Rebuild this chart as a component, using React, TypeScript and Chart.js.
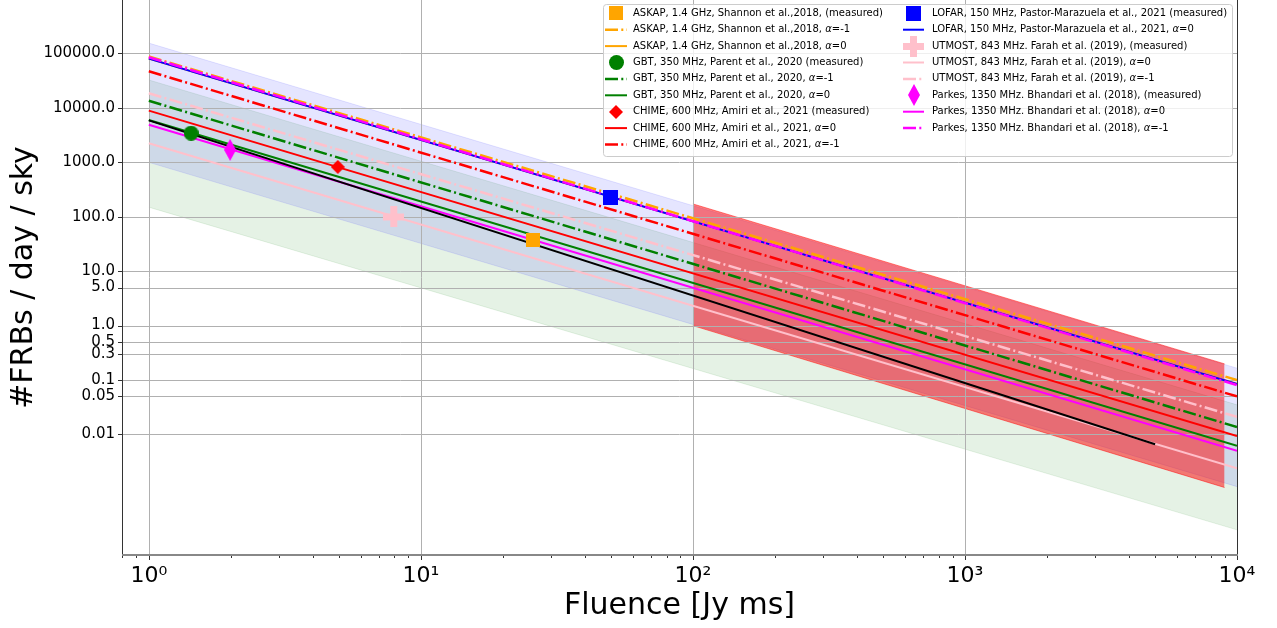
import React, { useEffect, useRef } from "react";
import { Chart, registerables } from "chart.js";

Chart.register(...registerables);

const FONT = "'DejaVu Sans', sans-serif";

// ---------- model lines (rate vs fluence, read at the two ends) ----------
const lineFluence = [1, 10000];
const askapAlphaM1 = [88000, 0.1];
const askapAlpha0 = [80500, 0.085];
const lofarAlpha0 = [80400, 0.084];
const parkesAlphaM1 = [85000, 0.081];
const chimeAlphaM1 = [47000, 0.05];
const utmostAlphaM1 = [18600, 0.021];
const gbtAlphaM1 = [13500, 0.0137];
const chimeAlpha0 = [8900, 0.0094];
const gbtAlpha0 = [6000, 0.0062];
const parkesAlpha0 = [4900, 0.005];
const utmostAlpha0 = [2240, 0.0024];
const blackFluence = [1, 5000];
const blackRate = [5900, 0.0066];

// ---------- shaded bands ----------
const bandFluence = [1, 10000];
const blueBandUpper = [155000, 0.165];
const blueBandLower = [1000, 0.0011];
const greenBandUpper = [32600, 0.035];
const greenBandLower = [150, 0.000177];
const redBandFluence = [100, 9000];
const redBandUpper = [172, 0.198];
const redBandLower = [1.0, 0.00106];

// ---------- measured points ----------
const measuredNames = ["ASKAP", "GBT", "CHIME", "UTMOST", "Parkes", "LOFAR"];
const measuredFluence = [25.9, 1.43, 4.95, 7.95, 1.99, 49.8];
const measuredRate = [37.6, 3430, 824, 99, 1690, 225];

// ---------- ticks ----------
const yTickValues = [100000, 10000, 1000, 100, 10, 5, 1, 0.5, 0.3, 0.1, 0.05, 0.01];
const yTickLabels = ["100000.0", "10000.0", "1000.0", "100.0", "10.0", "5.0", "1.0", "0.5", "0.3", "0.1", "0.05", "0.01"];
const xTickValues = [1, 10, 100, 1000, 10000];
const xTickLabels = ["10\u2070", "10\u00b9", "10\u00b2", "10\u00b3", "10\u2074"];

// ---------- legend ----------
const legendCol1 = [
  "ASKAP, 1.4 GHz, Shannon et al.,2018, (measured)",
  "ASKAP, 1.4 GHz, Shannon et al.,2018, |=-1",
  "ASKAP, 1.4 GHz, Shannon et al.,2018, |=0",
  "GBT, 350 MHz, Parent et al., 2020 (measured)",
  "GBT, 350 MHz, Parent et al., 2020, |=-1",
  "GBT, 350 MHz, Parent et al., 2020, |=0",
  "CHIME, 600 MHz, Amiri et al., 2021 (measured)",
  "CHIME, 600 MHz, Amiri et al., 2021, |=0",
  "CHIME, 600 MHz, Amiri et al., 2021, |=-1",
];
const legendCol2 = [
  "LOFAR, 150 MHz, Pastor-Marazuela et al., 2021 (measured)",
  "LOFAR, 150 MHz, Pastor-Marazuela et al., 2021, |=0",
  "UTMOST, 843 MHz. Farah et al. (2019), (measured)",
  "UTMOST, 843 MHz, Farah et al. (2019), |=0",
  "UTMOST, 843 MHz, Farah et al. (2019), |=-1",
  "Parkes, 1350 MHz. Bhandari et al. (2018), (measured)",
  "Parkes, 1350 MHz. Bhandari et al. (2018), |=0",
  "Parkes, 1350 MHz. Bhandari et al. (2018), |=-1",
];

const ORANGE = "#ffa500";
const BLUE = "#0000ff";
const GREEN = "#008000";
const RED = "#ff0000";
const PINK = "#ffc0cb";
const MAGENTA = "#ff00ff";
const DASHDOT = [13, 3.3, 2, 3.3];

type MarkerKind = "square" | "circle" | "diamond" | "thinDiamond" | "plus";

function makeMarker(kind: MarkerKind, color: string, w: number, h: number): HTMLCanvasElement {
  const c = document.createElement("canvas");
  c.width = w;
  c.height = h;
  const g = c.getContext("2d")!;
  g.fillStyle = color;
  if (kind === "square") {
    g.fillRect(0, 0, w, h);
  } else if (kind === "circle") {
    g.beginPath();
    g.arc(w / 2, h / 2, w / 2, 0, Math.PI * 2);
    g.fill();
  } else if (kind === "diamond" || kind === "thinDiamond") {
    g.beginPath();
    g.moveTo(w / 2, 0);
    g.lineTo(w, h / 2);
    g.lineTo(w / 2, h);
    g.lineTo(0, h / 2);
    g.closePath();
    g.fill();
  } else if (kind === "plus") {
    const t = Math.round(w / 3);
    g.fillRect((w - t) / 2, 0, t, h);
    g.fillRect(0, (h - t) / 2, w, t);
  }
  return c;
}

type LegendHandle = { type: "marker"; img: HTMLCanvasElement } | { type: "line"; color: string; dash: boolean };

export default function App() {
  const ref = useRef<HTMLCanvasElement>(null);

  useEffect(() => {
    const canvas = ref.current;
    if (!canvas) return;

    const mAskap = makeMarker("square", ORANGE, 14, 14);
    const mGbt = makeMarker("circle", GREEN, 15, 15);
    const mChime = makeMarker("diamond", RED, 14, 14);
    const mUtmost = makeMarker("plus", PINK, 21, 21);
    const mParkes = makeMarker("thinDiamond", MAGENTA, 12, 22);
    const mLofar = makeMarker("square", BLUE, 15, 15);
    const markerImgs = [mAskap, mGbt, mChime, mUtmost, mParkes, mLofar];

    const pts = (xs: number[], ys: number[]) => xs.map((x, i) => ({ x, y: ys[i] }));

    let order = 200;
    const lineDs = (label: string, ys: number[], color: string, dash: boolean, xs = lineFluence) => ({
      label,
      data: pts(xs, ys),
      borderColor: color,
      borderWidth: dash ? 2.5 : 2,
      borderDash: dash ? DASHDOT : [],
      pointRadius: 0,
      fill: false,
      order: order--,
    });

    const bandDs = (label: string, xs: number[], upper: number[], lower: number[], fillColor: string, edge: string, o: number, gridAfter = false) => [
      {
        label: label + " upper",
        data: pts(xs, upper),
        borderColor: edge,
        borderWidth: 1,
        backgroundColor: fillColor,
        pointRadius: 0,
        fill: "+1",
        order: o + 1,
      },
      {
        label: label + " lower",
        data: pts(xs, lower),
        borderColor: edge,
        borderWidth: 1,
        pointRadius: 0,
        fill: false,
        order: o,
        gridAfter,
      },
    ];

    // bands: drawn first (higher order = drawn earlier)
    const bands: any[] = [
      ...bandDs("green band", bandFluence, greenBandUpper, greenBandLower, "rgba(0,128,0,0.1)", "rgba(0,128,0,0.1)", 905),
      ...bandDs("blue band", bandFluence, blueBandUpper, blueBandLower, "rgba(0,0,255,0.1)", "rgba(0,0,255,0.1)", 903),
      ...bandDs("red band", redBandFluence, redBandUpper, redBandLower, "rgba(255,0,0,0.5)", "rgba(255,0,0,0.5)", 901, true),
    ];

    const lines = [
      lineDs("ASKAP a=-1", askapAlphaM1, ORANGE, true),
      lineDs("ASKAP a=0", askapAlpha0, ORANGE, false),
      lineDs("GBT a=-1", gbtAlphaM1, GREEN, true),
      lineDs("GBT a=0", gbtAlpha0, GREEN, false),
      lineDs("CHIME a=0", chimeAlpha0, RED, false),
      lineDs("CHIME a=-1", chimeAlphaM1, RED, true),
      lineDs("LOFAR a=0", lofarAlpha0, BLUE, false),
      lineDs("UTMOST a=0", utmostAlpha0, PINK, false),
      lineDs("UTMOST a=-1", utmostAlphaM1, PINK, true),
      lineDs("Parkes a=0", parkesAlpha0, MAGENTA, false),
      lineDs("Parkes a=-1", parkesAlphaM1, MAGENTA, true),
      lineDs("other", blackRate, "#000000", false, blackFluence),
    ];

    const markers = measuredNames.map((name, i) => ({
      label: name + " measured",
      data: [{ x: measuredFluence[i], y: measuredRate[i] }],
      showLine: false,
      pointStyle: markerImgs[i],
      pointRadius: 8,
      borderWidth: 0,
      order: 50 - i,
    }));

    const handles1: LegendHandle[] = [
      { type: "marker", img: mAskap },
      { type: "line", color: ORANGE, dash: true },
      { type: "line", color: ORANGE, dash: false },
      { type: "marker", img: mGbt },
      { type: "line", color: GREEN, dash: true },
      { type: "line", color: GREEN, dash: false },
      { type: "marker", img: mChime },
      { type: "line", color: RED, dash: false },
      { type: "line", color: RED, dash: true },
    ];
    const handles2: LegendHandle[] = [
      { type: "marker", img: mLofar },
      { type: "line", color: BLUE, dash: false },
      { type: "marker", img: mUtmost },
      { type: "line", color: PINK, dash: false },
      { type: "line", color: PINK, dash: true },
      { type: "marker", img: mParkes },
      { type: "line", color: MAGENTA, dash: false },
      { type: "line", color: MAGENTA, dash: true },
    ];

    const drawGrid = (chart: any) => {
      const { ctx, chartArea: a, scales } = chart;
      ctx.save();
      ctx.beginPath();
      ctx.rect(a.left, a.top, a.right - a.left, a.bottom - a.top);
      ctx.clip();
      ctx.strokeStyle = "#b0b0b0";
      ctx.lineWidth = 1;
      ctx.beginPath();
      xTickValues.forEach((v) => {
        const px = Math.round(scales.x.getPixelForValue(v)) + 0.5;
        ctx.moveTo(px, a.top);
        ctx.lineTo(px, a.bottom);
      });
      yTickValues.forEach((v) => {
        const py = Math.round(scales.y.getPixelForValue(v)) + 0.5;
        ctx.moveTo(a.left, py);
        ctx.lineTo(a.right, py);
      });
      ctx.stroke();
      ctx.restore();
    };

    const drawLegendText = (ctx: CanvasRenderingContext2D, text: string, x: number, y: number) => {
      const parts = text.split("|");
      ctx.font = `10px ${FONT}`;
      ctx.fillText(parts[0], x, y);
      if (parts.length > 1) {
        let cx = x + ctx.measureText(parts[0]).width;
        ctx.font = `italic 10px ${FONT}`;
        ctx.fillText("\u03b1", cx, y);
        cx += ctx.measureText("\u03b1").width;
        ctx.font = `10px ${FONT}`;
        ctx.fillText(parts[1], cx, y);
      }
    };

    const drawLegend = (ctx: CanvasRenderingContext2D) => {
      ctx.save();
      const bx = 603.5, by = 4.5, bw = 629, bh = 152;
      ctx.beginPath();
      (ctx as any).roundRect(bx, by, bw, bh, 3);
      ctx.fillStyle = "rgba(255,255,255,0.8)";
      ctx.fill();
      ctx.strokeStyle = "#cccccc";
      ctx.lineWidth = 1;
      ctx.stroke();
      ctx.textBaseline = "middle";
      ctx.fillStyle = "#000";
      const cols = [
        { texts: legendCol1, handles: handles1, hx0: 605, hx1: 627, tx: 633 },
        { texts: legendCol2, handles: handles2, hx0: 903, hx1: 924, tx: 932 },
      ];
      cols.forEach((col) => {
        col.texts.forEach((t, i) => {
          const ry = 13.3 + i * 16.4;
          const h = col.handles[i];
          if (h.type === "marker") {
            ctx.drawImage(h.img, Math.round((col.hx0 + col.hx1) / 2 - h.img.width / 2), Math.round(ry - h.img.height / 2));
          } else {
            ctx.save();
            ctx.strokeStyle = h.color;
            ctx.lineWidth = h.dash ? 2.5 : 2;
            ctx.setLineDash(h.dash ? DASHDOT : []);
            ctx.beginPath();
            ctx.moveTo(col.hx0, ry);
            ctx.lineTo(col.hx1, ry);
            ctx.stroke();
            ctx.restore();
          }
          ctx.fillStyle = "#000";
          drawLegendText(ctx, t, col.tx, ry);
        });
      });
      ctx.restore();
    };

    const framePlugin = {
      id: "frame",
      afterDatasetDraw(chart: any, args: any) {
        const ds = chart.data.datasets[args.index];
        if (ds && ds.gridAfter) drawGrid(chart);
      },
      afterDraw(chart: any) {
        const { ctx, chartArea: a, scales } = chart;
        ctx.save();
        ctx.fillStyle = "#333";
        xTickValues.forEach((v) => {
          const px = Math.round(scales.x.getPixelForValue(v));
          ctx.fillRect(px, a.bottom, 1, 5);
        });
        for (let d = -1; d < 4; d++) {
          for (let m = 2; m <= 9; m++) {
            const v = m * Math.pow(10, d);
            if (v < scales.x.min || v > scales.x.max) continue;
            const px = Math.round(scales.x.getPixelForValue(v));
            ctx.fillRect(px, a.bottom, 1, 3);
          }
        }
        yTickValues.forEach((v) => {
          const py = Math.round(scales.y.getPixelForValue(v));
          ctx.fillRect(a.left - 4, py, 4, 1);
        });
        ctx.fillStyle = "#333";
        ctx.fillRect(Math.round(a.left), 0, 1, Math.round(a.bottom));
        ctx.fillRect(Math.round(a.right), 0, 1, Math.round(a.bottom));
        ctx.fillStyle = "#888";
        ctx.fillRect(Math.round(a.left), Math.round(a.bottom) - 1, Math.round(a.right - a.left) + 1, 2);
        ctx.restore();
        drawLegend(ctx);
      },
    };

    const chart = new Chart(canvas, {
      type: "line",
      data: { datasets: [...markers, ...lines, ...bands] as any },
      options: {
        animation: false,
        responsive: false,
        events: [],
        layout: { autoPadding: false, padding: { left: 0, right: 40, top: 0, bottom: 0 } },
        plugins: {
          legend: { display: false },
          tooltip: { enabled: false },
          filler: { drawTime: "beforeDatasetDraw" } as any,
        },
        scales: {
          x: {
            type: "logarithmic",
            position: "bottom",
            min: 0.797,
            max: 10000,
            afterBuildTicks: (s: any) => {
              s.ticks = xTickValues.map((v) => ({ value: v, major: true }));
            },
            afterFit: (s: any) => {
              s.height = 73;
              s.paddingLeft = 0;
              s.paddingRight = 0;
              s.paddingTop = 0;
              s.paddingBottom = 0;
            },
            ticks: {
              autoSkip: false,
              maxRotation: 0,
              padding: 3,
              color: "#000",
              font: { family: FONT, size: 22 },
              callback: (v: any) => xTickLabels[xTickValues.indexOf(Number(v))] ?? "",
            },
            grid: { display: false, drawTicks: true, tickLength: 5 },
            border: { display: false },
            title: {
              display: true,
              text: "Fluence [Jy ms]",
              color: "#000",
              font: { family: FONT, size: 30 },
              padding: { top: 0, bottom: 4 },
            },
          },
          y: {
            type: "logarithmic",
            position: "left",
            min: 0.000061,
            max: 960000,
            afterBuildTicks: (s: any) => {
              s.ticks = yTickValues.map((v) => ({ value: v }));
            },
            afterFit: (s: any) => {
              s.width = 122;
              s.paddingLeft = 0;
              s.paddingRight = 0;
              s.paddingTop = 0;
              s.paddingBottom = 0;
            },
            ticks: {
              autoSkip: false,
              padding: 3,
              color: "#000",
              font: { family: FONT, size: 15 },
              callback: (v: any) => yTickLabels[yTickValues.indexOf(Number(v))] ?? "",
            },
            grid: { display: false, drawTicks: true, tickLength: 4 },
            border: { display: false },
            title: {
              display: true,
              text: "#FRBs / day / sky",
              color: "#000",
              font: { family: FONT, size: 30 },
              padding: { top: 6, bottom: 0 },
            },
          },
        },
      },
      plugins: [framePlugin],
    });

    return () => chart.destroy();
  }, []);

  return (
    <div style={{ position: "absolute", left: 0, top: 0, width: 1277, height: 628 }}>
      <canvas ref={ref} width={1277} height={628} />
    </div>
  );
}
